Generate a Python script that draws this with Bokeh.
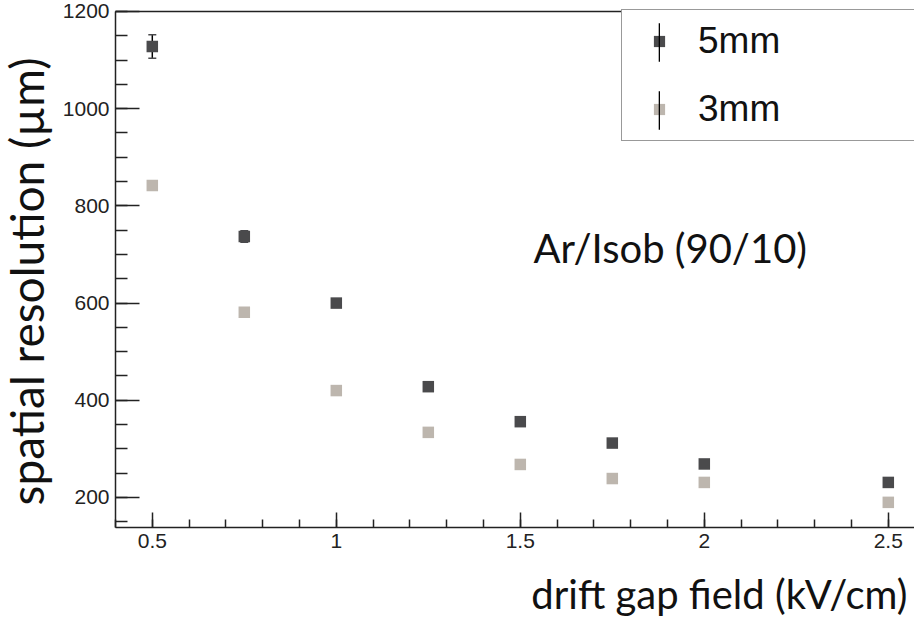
import math
from bokeh.plotting import figure
from bokeh.models import (ColumnDataSource, SingleIntervalTicker, FixedTicker, Label,
                          Legend, LegendItem, LinearAxis)
from bokeh.embed import file_html
from bokeh.resources import INLINE

# ---- data ----
drift_field = [0.5, 0.75, 1.0, 1.25, 1.5, 1.75, 2.0, 2.5]
res_5mm = [1128, 737, 600, 428, 356, 312, 269, 231]
err_5mm = [24, 12, 5, 4, 4, 4, 4, 4]
res_3mm = [842, 581, 420, 334, 268, 239, 231, 190]
err_3mm = [5, 5, 4, 4, 3, 3, 3, 3]

x_ticks = [0.5, 1.0, 1.5, 2.0, 2.5]
x_tick_labels = ["0.5", "1", "1.5", "2", "2.5"]
series_names = ["5mm", "3mm"]

# plotting frame of the reference (data units)
FX0, FX1 = 0.4, 2.5712
FY0, FY1 = 138, 1200
# canvas extent in data units (frame covers the whole canvas)
CX0, CX1 = 0.0875, 2.5712
CY0, CY1 = -53.1, 1222.6

DARK = "#4a4a4c"
LIGHT = "#bdb6ae"
AX = "#222222"
TXT = "#111111"

p = figure(width=914, height=620, x_range=(CX0, CX1), y_range=(CY0, CY1),
           output_backend="svg", toolbar_location=None,
           min_border_left=0, min_border_right=0, min_border_top=0,
           min_border_bottom=0)
p.grid.visible = False
p.outline_line_color = None
p.background_fill_color = "white"
p.border_fill_color = "white"

# axes drawn at the reference frame position
p.xaxis.ticker = SingleIntervalTicker(interval=0.5, num_minor_ticks=5)
p.xaxis.major_label_overrides = dict(zip(x_ticks, x_tick_labels))
p.yaxis.ticker = SingleIntervalTicker(interval=200, num_minor_ticks=4)
p.xaxis.fixed_location = FY0
p.xaxis.bounds = (FX0, FX1)
p.yaxis.fixed_location = FX0
p.yaxis.bounds = (FY0, FY1)
for ax in (p.xaxis[0], p.yaxis[0]):
    ax.axis_line_color = AX
    ax.axis_line_width = 1.5
    ax.major_tick_line_color = AX
    ax.minor_tick_line_color = AX
    ax.major_tick_line_width = 1.5
    ax.minor_tick_line_width = 1.5
    ax.major_tick_out = 0
    ax.minor_tick_out = 0
    ax.major_label_text_font = "Liberation Sans"
    ax.major_label_text_font_size = "21px"
    ax.major_label_text_color = AX
    ax.major_label_standoff = 6
p.xaxis.major_tick_in = 15
p.xaxis.minor_tick_in = 8
p.yaxis.major_tick_in = 24
p.yaxis.minor_tick_in = 12

# top frame line
top = LinearAxis(fixed_location=FY1, bounds=(FX0, FX1), ticker=FixedTicker(ticks=[]),
                 axis_line_color=AX, axis_line_width=1.5,
                 major_tick_in=0, major_tick_out=0, minor_tick_in=0, minor_tick_out=0,
                 major_label_text_font_size="0px")
p.add_layout(top, "above")

src5 = ColumnDataSource(dict(x=drift_field, y=res_5mm,
                             lo=[v - e for v, e in zip(res_5mm, err_5mm)],
                             hi=[v + e for v, e in zip(res_5mm, err_5mm)]))
src3 = ColumnDataSource(dict(x=drift_field, y=res_3mm,
                             lo=[v - e for v, e in zip(res_3mm, err_3mm)],
                             hi=[v + e for v, e in zip(res_3mm, err_3mm)]))

# error bars
stem5 = p.vbar(x="x", bottom="lo", top="hi", width=0.004, source=src5,
               fill_color="black", line_color=None)
stem3 = p.vbar(x="x", bottom="lo", top="hi", width=0.004, source=src3,
               fill_color="black", line_color=None)
for s in (src5, src3):
    p.scatter(x="x", y="hi", source=s, marker="dash", size=8, line_color=DARK, line_width=1.5)
    p.scatter(x="x", y="lo", source=s, marker="dash", size=8, line_color=DARK, line_width=1.5)

sq3 = p.scatter(x="x", y="y", source=src3, marker="square", size=11.5,
                fill_color=LIGHT, line_color=None)
sq5 = p.scatter(x="x", y="y", source=src5, marker="square", size=11.5,
                fill_color=DARK, line_color=None)

# legend (markers + labels)
legA = Legend(items=[LegendItem(label=series_names[0], renderers=[sq5]),
                     LegendItem(label=series_names[1], renderers=[sq3])],
              location=(621, 479), margin=0, padding=10, spacing=26,
              glyph_width=54, glyph_height=28, label_standoff=12, label_width=207,
              label_text_font="Liberation Sans", label_text_font_size="37px",
              label_text_color=TXT,
              border_line_color="#333333", border_line_width=1.5,
              background_fill_color="white", background_fill_alpha=1.0)
p.add_layout(legA)
# legend (vertical error-bar strokes)
legB = Legend(items=[LegendItem(label=series_names[0], renderers=[stem5]),
                     LegendItem(label=series_names[1], renderers=[stem3])],
              location=(658, 486), margin=0, padding=7, spacing=20,
              glyph_width=2, glyph_height=48, label_standoff=5, label_width=200,
              label_text_font_size="10px", label_text_alpha=0,
              border_line_color=None, background_fill_alpha=0)
p.add_layout(legB)

# annotation text
p.add_layout(Label(x=1.536, y=714, text="Ar/Isob (90/10)", text_font="Lato",
                   text_font_size="40px", text_color=TXT,
                   text_baseline="alphabetic"))

# axis titles
p.add_layout(Label(x=0.158, y=183.5, text="spatial resolution (µm)",
                   angle=math.pi / 2, text_align="left", text_baseline="alphabetic",
                   text_font="Lato", text_font_size="46px", text_color=TXT))
p.add_layout(Label(x=2.552, y=0.4, text="drift gap field (kV/cm)",
                   text_align="right", text_baseline="alphabetic",
                   text_font="Lato", text_font_size="40px", text_color=TXT))

open("out.html", "w").write(file_html(p, INLINE))
